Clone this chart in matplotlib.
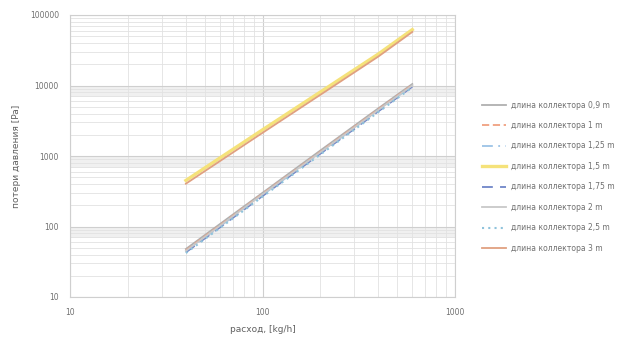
import numpy as np
import matplotlib.pyplot as plt
from matplotlib.ticker import LogLocator, FixedLocator, FixedFormatter

# flow rate, kg/h
flow = [40, 100, 200, 400, 600]

# pressure loss, Pa
loss_09 = [48, 300, 1200, 4750, 10500]
loss_1 = [46, 290, 1150, 4600, 10200]
loss_125 = [44, 280, 1110, 4450, 9900]
loss_15 = [450, 2350, 8100, 28000, 62000]
loss_175 = [43, 270, 1080, 4300, 9600]
loss_2 = [45, 285, 1130, 4500, 10000]
loss_25 = [42, 265, 1050, 4200, 9400]
loss_3 = [405, 2130, 7400, 25800, 57500]

labels = ["длина коллектора 0,9 m", "длина коллектора 1 m", "длина коллектора 1,25 m",
          "длина коллектора 1,5 m", "длина коллектора 1,75 m", "длина коллектора 2 m",
          "длина коллектора 2,5 m", "длина коллектора 3 m"]
series = [loss_09, loss_1, loss_125, loss_15, loss_175, loss_2, loss_25, loss_3]
colors = ["#b0b0b0", "#f0a080", "#9cc3e6", "#f5e27a", "#6f86c8", "#c8c8c8", "#8fc3dc", "#e0a080"]
styles = ["-", (0, (4, 2)), (0, (6, 3, 1, 3)), "-", (0, (6, 4)), "-", (0, (1, 2)), "-"]
widths = [1.3, 1.3, 1.3, 2.4, 1.3, 1.3, 1.5, 1.3]

plt.rcParams['font.family'] = ['DejaVu Sans']
fig = plt.figure(figsize=(6.37, 3.43), dpi=100)
ax = fig.add_axes([70 / 637, 46 / 343, 385 / 637, 282 / 343])

for y, lab, c, ls, lw in zip(series, labels, colors, styles, widths):
    ax.plot(flow, y, color=c, linestyle=ls, linewidth=lw, label=lab)

ax.set_xscale("log")
ax.set_yscale("log")
ax.set_xlim(10, 1000)
ax.set_ylim(10, 100000)

# light bands just below each decade line
for top in [100, 1000, 10000]:
    ax.axhspan(top * 0.68, top, color="#f0f0f0", zorder=0, lw=0)

ax.grid(True, which="major", color="#cfcfcf", linewidth=0.8)
ax.grid(True, which="minor", color="#e2e2e2", linewidth=0.6)
ax.set_axisbelow(True)

ax.xaxis.set_major_locator(FixedLocator([10, 100, 1000]))
ax.xaxis.set_major_formatter(FixedFormatter(["10", "100", "1000"]))
ax.yaxis.set_major_locator(FixedLocator([10, 100, 1000, 10000, 100000]))
ax.yaxis.set_major_formatter(FixedFormatter(["10", "100", "1000", "10000", "100000"]))
ax.xaxis.set_minor_locator(LogLocator(base=10, subs=np.arange(2, 10)))
ax.yaxis.set_minor_locator(LogLocator(base=10, subs=np.arange(2, 10)))
ax.xaxis.set_minor_formatter(plt.NullFormatter())
ax.yaxis.set_minor_formatter(plt.NullFormatter())
ax.tick_params(which="both", length=0, labelsize=5.5, labelcolor="#707070", pad=8)

for s in ax.spines.values():
    s.set_color("#cfcfcf")
    s.set_linewidth(0.8)

ax.set_xlabel("расход, [kg/h]", fontsize=6.5, color="#606060", labelpad=6)
ax.set_ylabel("потери давления [Pa]", fontsize=6.5, color="#606060", labelpad=6)

fig.legend(loc="center left", bbox_to_anchor=(475 / 637, 0.485), frameon=False,
           fontsize=5.5, labelcolor="#707070", handlelength=3.2, labelspacing=1.5,
           handletextpad=0.6)

fig.savefig("out.png", dpi=100, facecolor="white")
